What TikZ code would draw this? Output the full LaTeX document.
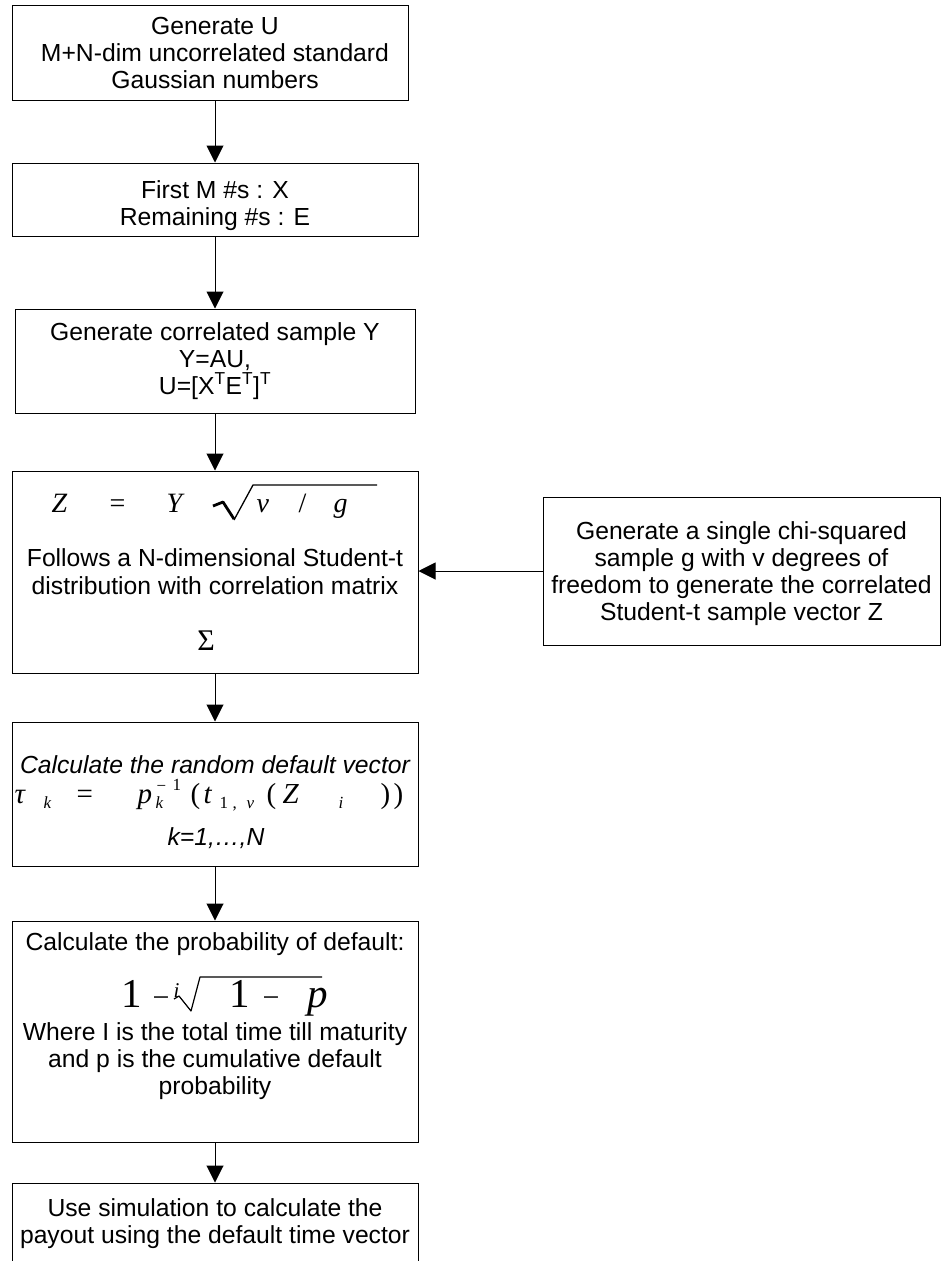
\documentclass[tikz,border=0pt]{standalone}
\usepackage{fontspec}
\setmainfont{Liberation Sans}
\newfontfamily\serifrm{Liberation Serif}
\usetikzlibrary{arrows.meta}
\newcommand\putat[2]{\makebox[0pt][l]{\hspace*{#1}#2}}
\newcommand\fsz[1]{\fontsize{#1}{#1}\selectfont}
\newcommand\rsub[3]{\makebox[0pt][l]{\hspace*{#1}\raisebox{#2}{\fsz{17}\serifrm\itshape #3}}}
\newcommand\rsubu[3]{\makebox[0pt][l]{\hspace*{#1}\raisebox{#2}{\fsz{17}\serifrm #3}}}
\begin{document}
\begin{tikzpicture}[x=1pt,y=-1pt,
  box/.style={draw=black, line width=1pt, rectangle, inner sep=0pt},
  lbl/.style={anchor=base, inner sep=0pt, font=\fontsize{24.7}{27}\selectfont},
  ilbl/.style={anchor=base, inner sep=0pt, font=\fontsize{24.7}{27}\selectfont\itshape},
  frm/.style={anchor=base west, inner sep=0pt},
  arr/.style={-{Triangle[length=17pt,width=17pt]}, line width=1pt}]

\useasboundingbox (0,0) rectangle (941,1261);

% boxes
\node[box, minimum width=396pt, minimum height=95pt] (b1) at (210,52.5) {};
\node[box, minimum width=406pt, minimum height=73pt] (b2) at (215,199.5) {};
\node[box, minimum width=400pt, minimum height=104pt] (b3) at (215,361) {};
\node[box, minimum width=406pt, minimum height=202pt] (b4) at (215,572) {};
\node[box, minimum width=406pt, minimum height=144pt] (b5) at (215,794) {};
\node[box, minimum width=406pt, minimum height=221pt] (b6) at (215,1031.5) {};
\node[box, minimum width=406pt, minimum height=92pt] (b7) at (215,1229) {};
\node[box, minimum width=397pt, minimum height=148pt] (r) at (741.5,571) {};

% box 1
\node[lbl] (t1a) at (215,34) {Generate U};
\node[lbl] (t1b) at (215,61) {M+N-dim uncorrelated standard};
\node[lbl] (t1c) at (215,88) {Gaussian numbers};
% box 2
\node[lbl] (t2a) at (215,198) {First M \#s : X};
\node[lbl] (t2b) at (215,225) {Remaining \#s : E};
% box 3
\node[lbl] (t3a) at (215,340) {Generate correlated sample Y};
\node[lbl] (t3b) at (215,367) {Y=AU,};
\node[lbl] (t3c) at (215,394) {U=[X\textsuperscript{T}E\textsuperscript{T}]\textsuperscript{T}};
% box 4
\node[frm] (f4) at (0,512) {\fsz{28}\serifrm
  \putat{51pt}{\itshape Z}\putat{109pt}{=}\putat{166pt}{\itshape Y}%
  \putat{256pt}{\itshape v}\putat{298pt}{/}\putat{333pt}{\itshape g}};
\draw[line width=2.8pt, line join=round] (213,506) -- (223,502) -- (234,519);
\draw[line width=1.3pt] (234,520) -- (253,485) -- (377,485);
\node[lbl] (t4a) at (215,566) {Follows a N-dimensional Student-t};
\node[lbl] (t4b) at (215,594) {distribution with correlation matrix};
\node[anchor=base, inner sep=0pt, font=\fsz{30}\serifrm] (t4c) at (206,650) {Σ};
% box 5
\node[ilbl] (t5a) at (215,773) {Calculate the random default vector};
\node[frm] (f5) at (0,803) {\fsz{29}\serifrm
  \putat{14pt}{\itshape τ}\rsub{43pt}{-5pt}{k}\putat{76pt}{=}%
  \putat{137pt}{\itshape p}\rsubu{156pt}{12pt}{−}\rsubu{172pt}{13pt}{1}\rsub{155pt}{-5pt}{k}%
  \putat{190pt}{(}\putat{203pt}{\itshape t}\rsubu{219pt}{-5pt}{1}\rsubu{232pt}{-5pt}{,}\rsub{246pt}{-5pt}{v}%
  \putat{266pt}{(}\putat{282pt}{\itshape Z}\rsub{338pt}{-5pt}{i}\putat{380pt}{)}\putat{393pt}{)}};
\node[ilbl] (t5b) at (216,845) {k=1,…,N};
% box 6
\node[lbl] (t6a) at (215,950) {Calculate the probability of default:};
\node[frm] (f6) at (0,1007) {\fsz{41}\serifrm
  \putat{121pt}{1}\putat{152pt}{\fsz{30}−}\putat{173pt}{\raisebox{10pt}{\fsz{21}\itshape i}}%
  \putat{229pt}{1}\putat{262pt}{\fsz{30}−}\putat{307pt}{\itshape p}};
\draw[line width=1.2pt, line join=round] (174,999) -- (179,996) -- (191,1011) -- (200,977) -- (322,977);
\node[lbl] (t6b) at (215,1040) {Where I is the total time till maturity};
\node[lbl] (t6c) at (215,1067) {and p is the cumulative default};
\node[lbl] (t6d) at (215,1094) {probability};
% box 7
\node[lbl] (t7a) at (215,1216) {Use simulation to calculate the};
\node[lbl] (t7b) at (215,1243) {payout using the default time vector};
% right box
\node[lbl] (tra) at (741.5,539) {Generate a single chi-squared};
\node[lbl] (trb) at (741.5,566) {sample g with v degrees of};
\node[lbl] (trc) at (741.5,593) {freedom to generate the correlated};
\node[lbl] (trd) at (741.5,620) {Student-t sample vector Z};

% connectors
\draw[arr] (b1.south -| b2.north) -- (b2.north);
\draw[arr] (b2.south) -- (b3.north);
\draw[arr] (b3.south) -- (b4.north);
\draw[arr] (b4.south) -- (b5.north);
\draw[arr] (b5.south) -- (b6.north);
\draw[arr] (b6.south) -- (b7.north);
\draw[arr] (r.west) -- (r.west -| b4.east);
\end{tikzpicture}
\end{document}
